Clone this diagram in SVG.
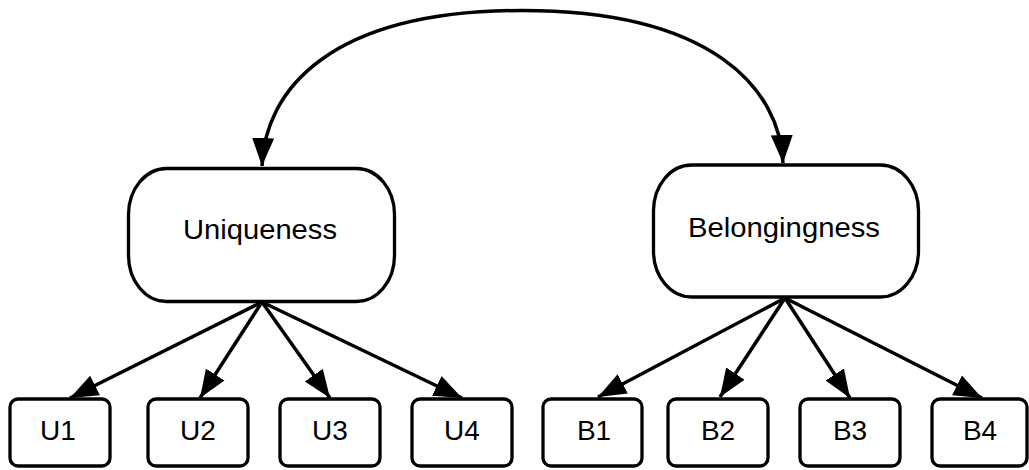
<svg xmlns="http://www.w3.org/2000/svg" width="1029" height="470" viewBox="0 0 1029 470">
  <style>
    .node { fill: #ffffff; stroke: #000000; stroke-width: 3.3; }
    .edge { fill: none; stroke: #000000; stroke-width: 3.5; }
    .big { font-family: "Liberation Sans", Arial, sans-serif; font-size: 28px; fill: #000000; text-anchor: middle; }
    .small { font-family: "Liberation Sans", Arial, sans-serif; font-size: 28px; fill: #000000; text-anchor: middle; }
  </style>
  <defs>
    <marker id="arrow" markerUnits="userSpaceOnUse" markerWidth="29" markerHeight="24" viewBox="0 0 29 24" refX="28" refY="12" orient="auto">
      <path d="M0,1 L28,12 L0,23 Z" fill="#000000"/>
    </marker>
  </defs>
  <rect width="1029" height="470" fill="#ffffff"/>

  <!-- connectors -->
  <g id="connectors">
    <path class="edge" d="M522,10.5 C330,10.5 265,90 262,166" marker-end="url(#arrow)"/>
    <path class="edge" d="M522,10.5 C714,10.5 780,90 783,163" marker-end="url(#arrow)"/>
    <line class="edge" x1="262" y1="302" x2="70" y2="398" marker-end="url(#arrow)"/>
    <line class="edge" x1="262" y1="302" x2="200" y2="398" marker-end="url(#arrow)"/>
    <line class="edge" x1="262" y1="302" x2="330" y2="398" marker-end="url(#arrow)"/>
    <line class="edge" x1="262" y1="302" x2="462" y2="398" marker-end="url(#arrow)"/>
    <line class="edge" x1="785" y1="298" x2="598" y2="397" marker-end="url(#arrow)"/>
    <line class="edge" x1="785" y1="298" x2="720" y2="397" marker-end="url(#arrow)"/>
    <line class="edge" x1="785" y1="298" x2="850" y2="398" marker-end="url(#arrow)"/>
    <line class="edge" x1="785" y1="298" x2="982" y2="398" marker-end="url(#arrow)"/>
  </g>

  <g id="uniqueness">
    <rect class="node" x="128.5" y="168.5" width="266" height="133" rx="38" ry="46"/>
    <text class="big" x="260" y="239" textLength="154" lengthAdjust="spacingAndGlyphs">Uniqueness</text>
  </g>
  <g id="belongingness">
    <rect class="node" x="653.5" y="165" width="265" height="132" rx="38" ry="46"/>
    <text class="big" x="784" y="237" textLength="192" lengthAdjust="spacingAndGlyphs">Belongingness</text>
  </g>

  <g id="u1"><rect class="node" x="10" y="399" width="100" height="67" rx="8"/><text class="small" x="58" y="440">U1</text></g>
  <g id="u2"><rect class="node" x="148" y="399" width="100" height="67" rx="8"/><text class="small" x="198" y="440">U2</text></g>
  <g id="u3"><rect class="node" x="280" y="399" width="100" height="67" rx="8"/><text class="small" x="330" y="440">U3</text></g>
  <g id="u4"><rect class="node" x="412" y="399" width="100" height="67" rx="8"/><text class="small" x="462" y="440">U4</text></g>
  <g id="b1"><rect class="node" x="543" y="399" width="99" height="67" rx="8"/><text class="small" x="594" y="440">B1</text></g>
  <g id="b2"><rect class="node" x="668" y="399" width="100" height="67" rx="8"/><text class="small" x="718" y="440">B2</text></g>
  <g id="b3"><rect class="node" x="800" y="399" width="100" height="67" rx="8"/><text class="small" x="850" y="440">B3</text></g>
  <g id="b4"><rect class="node" x="932" y="399" width="95" height="67" rx="8"/><text class="small" x="980" y="440">B4</text></g>
</svg>
